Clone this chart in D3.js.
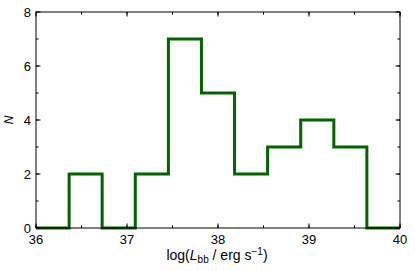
<!DOCTYPE html>
<html>
<head>
<meta charset="utf-8">
<script src="https://cdn.jsdelivr.net/npm/d3@7"></script>
<style>
  body { margin: 0; background: #fff; }
  text { font-family: "Liberation Sans", Arial, sans-serif; fill: #000; }
</style>
</head>
<body>
<div id="chart"></div>
<script>
// histogram data: bin edges and counts
var binEdges = [36.0, 36.364, 36.727, 37.091, 37.455, 37.818, 38.182, 38.545, 38.909, 39.273, 39.636, 40.0];
var counts = [0, 2, 0, 2, 7, 5, 2, 3, 4, 3, 0];
var xTicks = [36, 37, 38, 39, 40];
var yTicks = [0, 2, 4, 6, 8];

var width = 415, height = 271,
	margin = {left: 36, right: 15, top: 12, bottom: 43};

var svg = d3.select("#chart").append("svg")
	.attr("width", width).attr("height", height);

var x = d3.scaleLinear().domain([36, 40]).range([margin.left, width - margin.right]);
var y = d3.scaleLinear().domain([0, 8]).range([height - margin.bottom, margin.top]);

// step line
var pts = [];
for (i = 0; i < counts.length; i++) {
	pts.push([binEdges[i], counts[i]]);
	pts.push([binEdges[i+1], counts[i]]);
}
svg.append("path")
	.attr("d", d3.line().x(function(d){return x(d[0]);}).y(function(d){return y(d[1]);})(pts))
	.attr("fill", "none")
	.attr("stroke", "#006400")
	.attr("stroke-width", 3)
	.attr("stroke-linejoin", "miter");

// ticks, inward on all four sides
var xMinor = d3.range(36, 40.01, 0.5), yMinor = d3.range(0, 8.01, 1);
function tickLines(vals, len, horiz) {
	vals.forEach(function(v){
		if (horiz) {
			svg.append("line").attr("x1", x(v)).attr("x2", x(v))
				.attr("y1", y(0)).attr("y2", y(0) - len).attr("stroke", "#000");
			svg.append("line").attr("x1", x(v)).attr("x2", x(v))
				.attr("y1", y(8)).attr("y2", y(8) + len).attr("stroke", "#000");
		} else {
			svg.append("line").attr("y1", y(v)).attr("y2", y(v))
				.attr("x1", x(36)).attr("x2", x(36) + len).attr("stroke", "#000");
			svg.append("line").attr("y1", y(v)).attr("y2", y(v))
				.attr("x1", x(40)).attr("x2", x(40) - len).attr("stroke", "#000");
		}
	});
}
tickLines(xMinor, 2.5, true);
tickLines(xTicks, 4.5, true);
tickLines(yMinor, 2.5, false);
tickLines(yTicks, 4.5, false);

// frame
svg.append("rect")
	.attr("x", x(36)).attr("y", y(8))
	.attr("width", x(40) - x(36)).attr("height", y(0) - y(8))
	.attr("fill", "none").attr("stroke", "#000").attr("stroke-width", 1);

// tick labels
svg.selectAll(".xl").data(xTicks).enter().append("text")
	.attr("x", function(d){return x(d);})
	.attr("y", y(0) + 16)
	.attr("text-anchor", "middle")
	.attr("font-size", 13)
	.text(function(d){return d;});
svg.selectAll(".yl").data(yTicks).enter().append("text")
	.attr("x", x(36) - 5)
	.attr("y", function(d){return y(d) + 5;})
	.attr("text-anchor", "end")
	.attr("font-size", 13)
	.text(function(d){return d;});

// axis titles
var xl = svg.append("text")
	.attr("x", 217)
	.attr("y", 260)
	.attr("text-anchor", "middle")
	.attr("font-size", 14);
xl.append("tspan").text("log(");
xl.append("tspan").attr("font-style", "italic").text("L");
xl.append("tspan").attr("font-size", 10).attr("dy", 3).text("bb");
xl.append("tspan").attr("dy", -3).text(" / erg s");
xl.append("tspan").attr("font-size", 10).attr("dy", -5).text("\u22121");
xl.append("tspan").attr("dy", 5).text(")");

svg.append("text")
	.attr("transform", "translate(13," + ((y(0) + y(8)) / 2) + ") rotate(-90)")
	.attr("text-anchor", "middle")
	.attr("font-size", 12)
	.attr("font-style", "italic")
	.text("N");
</script>
</body>
</html>
